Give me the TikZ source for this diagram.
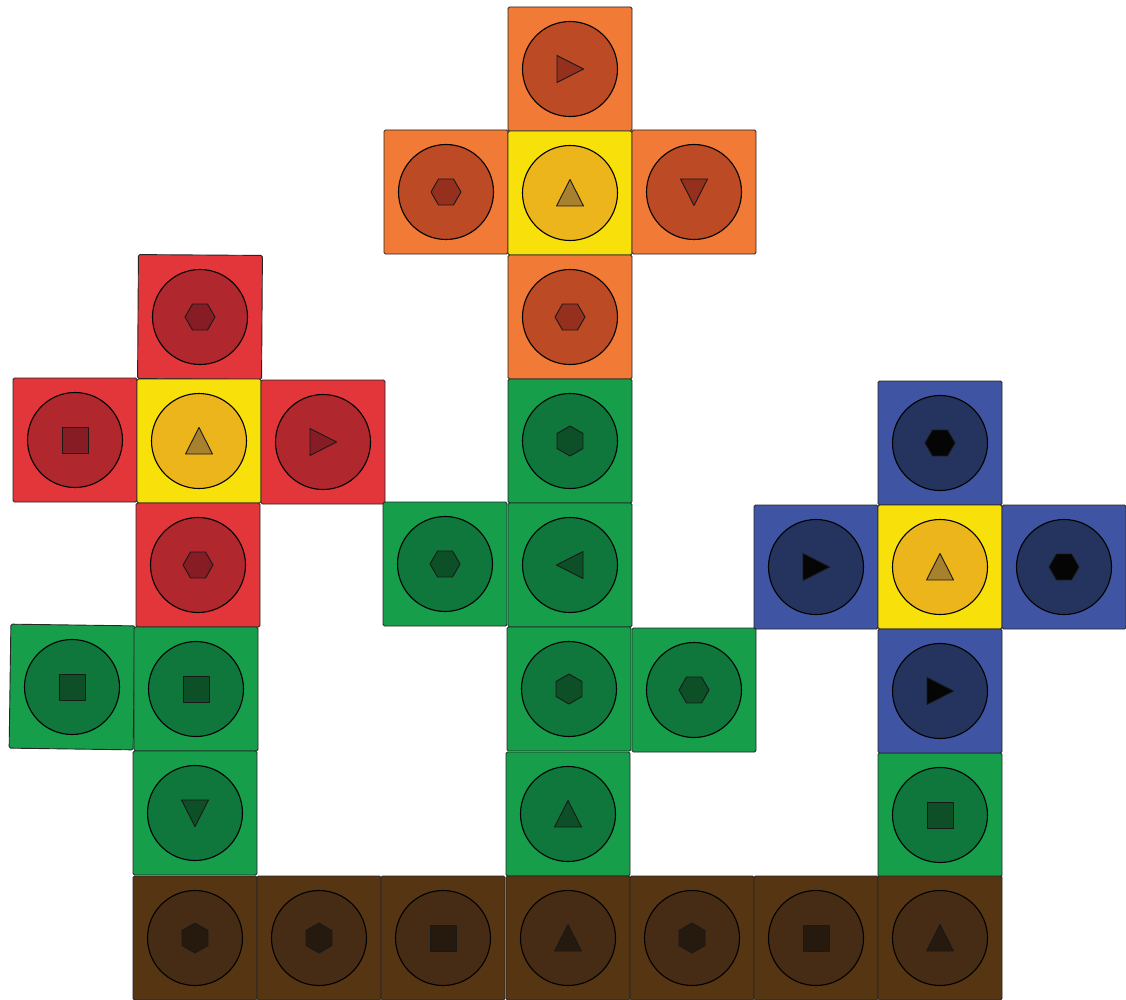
\documentclass[tikz,border=0pt]{standalone}
\usetikzlibrary{positioning}
% Farben: Kachel (T), Scheibe (C), Symbol (S)
\definecolor{oraT}{HTML}{F07A36}
\definecolor{oraC}{HTML}{BC4A24}
\definecolor{oraS}{HTML}{95301E}
\definecolor{yelT}{HTML}{F8E00A}
\definecolor{yelC}{HTML}{EDB51C}
\definecolor{yelS}{HTML}{A8812E}
\definecolor{redT}{HTML}{E2363A}
\definecolor{redC}{HTML}{B0282E}
\definecolor{redS}{HTML}{881C24}
\definecolor{grnT}{HTML}{169E4A}
\definecolor{grnC}{HTML}{0F763C}
\definecolor{grnS}{HTML}{0D5028}
\definecolor{bluT}{HTML}{3F54A3}
\definecolor{bluC}{HTML}{24345E}
\definecolor{bluS}{HTML}{050505}
\definecolor{brnT}{HTML}{563512}
\definecolor{brnC}{HTML}{462C15}
\definecolor{brnS}{HTML}{261A0F}
\tikzset{
  every picture/.style={line join=round, line cap=round},
  % Kachel und Scheibe
  tile/.style={draw=black!85, line width=0.9pt, rounded corners=1.5pt,
    minimum size=124pt, inner sep=0pt},
  disc/.style={circle, draw=black, line width=1.1pt, minimum size=95pt, inner sep=0pt},
  % Symbol in der Mitte
  sym/.style={draw=black!90, line width=0.9pt},
}
% Kachel: [Drehung] Name, Mitte, Farbfamilie
\newcommand{\tile}[4][0]{%
  \node[tile, fill=#4T, rotate=#1] (#2) at (#3) {};
  \node[disc, fill=#4C] (#2d) at (#3) {};}
% Symbole: Kachel, Drehung, Farbfamilie
\newcommand{\hexa}[3]{%
  \draw[sym, fill=#3S, shift={(#1.center)}, rotate=#2]
    (0:15) \foreach \a in {60,120,...,300} { -- (\a:15)} -- cycle;}
\newcommand{\tri}[3]{%
  \draw[sym, fill=#3S, shift={(#1.center)}, rotate=#2]
    (0,-13.5) -- (13.5,13) -- (-13.5,13) -- cycle;}
\newcommand{\sqr}[2]{%
  \draw[sym, fill=#2S, shift={(#1.center)}] (-13,-13) rectangle (13,13);}

\begin{document}
\begin{tikzpicture}[x=1pt, y=-1pt]
  \useasboundingbox (0,0) rectangle (1126,1000);
  % orange Gruppe
  \tile{t40}{570,69}{ora}   \tri{t40}{-90}{ora}
  \tile{t31}{446,192}{ora}  \hexa{t31}{0}{ora}
  \tile{t41}{570,193}{yel}  \tri{t41}{0}{yel}
  \tile{t51}{694,192}{ora}  \tri{t51}{180}{ora}
  \tile{t42}{570,317}{ora}  \hexa{t42}{0}{ora}
  % rote Gruppe
  \tile[-0.4]{t12}{200,317}{red}  \hexa{t12}{0}{red}
  \tile{t03}{75,440}{red}   \sqr{t03}{red}
  \tile{t13}{199,441}{yel}  \tri{t13}{0}{yel}
  \tile{t23}{323,442}{red}  \tri{t23}{-90}{red}
  \tile{t14}{198,565}{red}  \hexa{t14}{0}{red}
  % gruene Kacheln
  \tile{t43}{570,441}{grn}  \hexa{t43}{30}{grn}
  \tile{t34}{445,564}{grn}  \hexa{t34}{0}{grn}
  \tile{t44}{570,565}{grn}  \tri{t44}{90}{grn}
  \tile[-0.8]{t05}{72,687}{grn}   \sqr{t05}{grn}
  \tile{t15}{196,689}{grn}  \sqr{t15}{grn}
  \tile{t45}{569,689}{grn}  \hexa{t45}{30}{grn}
  \tile{t55}{694,690}{grn}  \hexa{t55}{0}{grn}
  \tile{t16}{195,813}{grn}  \tri{t16}{180}{grn}
  \tile{t46}{568,814}{grn}  \tri{t46}{0}{grn}
  \tile{t76}{940,815}{grn}  \sqr{t76}{grn}
  % blaue Gruppe
  \tile{t73}{940,443}{blu}  \hexa{t73}{0}{blu}
  \tile{t64}{816,567}{blu}  \tri{t64}{-90}{blu}
  \tile{t74}{940,567}{yel}  \tri{t74}{0}{yel}
  \tile{t84}{1064,567}{blu} \hexa{t84}{0}{blu}
  \tile{t75}{940,691}{blu}  \tri{t75}{-90}{blu}
  % braune Reihe unten
  \tile{t17}{195,938}{brn}  \hexa{t17}{30}{brn}
  \tile{t27}{319,938}{brn}  \hexa{t27}{30}{brn}
  \tile{t37}{443,938}{brn}  \sqr{t37}{brn}
  \tile{t47}{568,938}{brn}  \tri{t47}{0}{brn}
  \tile{t57}{692,938}{brn}  \hexa{t57}{30}{brn}
  \tile{t67}{816,938}{brn}  \sqr{t67}{brn}
  \tile{t77}{940,938}{brn}  \tri{t77}{0}{brn}
\end{tikzpicture}
\end{document}
